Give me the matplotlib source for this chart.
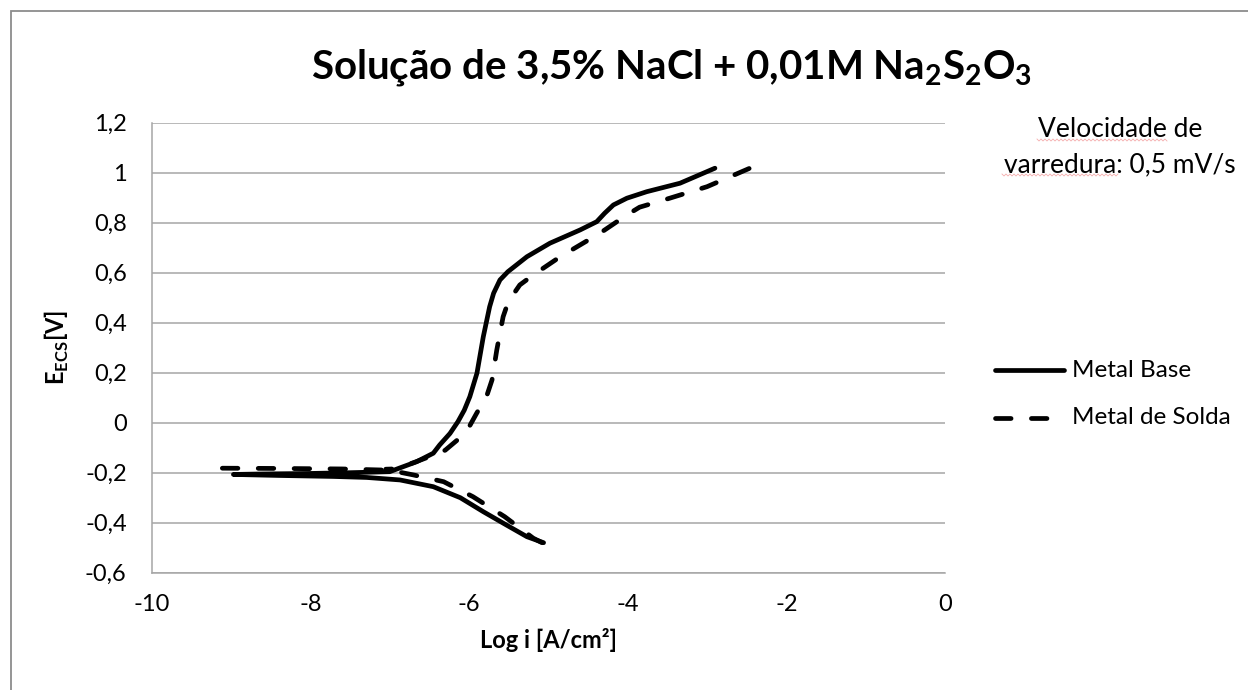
import matplotlib
matplotlib.use("Agg")
import matplotlib.pyplot as plt
from matplotlib.patches import Rectangle
from matplotlib.lines import Line2D

# Polarization curves: log of current density vs potential (E_ECS)
base_logi = [-5.06, -5.27, -5.53, -5.82, -6.11, -6.45, -6.87, -7.29, -7.71, -8.40, -8.97,
             -8.60, -8.00, -7.50, -7.00, -6.66, -6.45, -6.37, -6.24, -6.14, -6.06,
             -5.99, -5.90, -5.82, -5.74, -5.69, -5.61, -5.51, -5.27, -4.98, -4.60,
             -4.39, -4.29, -4.18, -4.01, -3.76, -3.34, -2.90]
base_E = [-0.480, -0.456, -0.409, -0.356, -0.300, -0.256, -0.229, -0.219, -0.215, -0.211, -0.207,
          -0.205, -0.203, -0.200, -0.196, -0.156, -0.122, -0.089, -0.043, 0.004, 0.050,
          0.104, 0.198, 0.344, 0.464, 0.518, 0.571, 0.604, 0.664, 0.718, 0.771,
          0.804, 0.838, 0.871, 0.898, 0.924, 0.958, 1.018]

# weld metal: cathodic branch (down to the corrosion potential) and anodic branch
solda_cat_logi = [-5.08, -5.19, -5.55, -5.95, -6.32, -6.70, -7.00, -7.60, -8.40, -9.12]
solda_cat_E = [-0.480, -0.462, -0.376, -0.296, -0.236, -0.209, -0.190, -0.185, -0.183, -0.182]

solda_an_logi = [-7.05, -6.95, -6.70, -6.45, -6.30, -6.15, -6.02, -5.90,
                 -5.78, -5.71, -5.65, -5.57, -5.505, -5.36, -5.19, -4.85, -4.35, -4.01,
                 -3.85, -3.47, -3.00, -2.46]
solda_an_E = [-0.186, -0.185, -0.160, -0.130, -0.110, -0.070, -0.029, 0.040,
              0.104, 0.171, 0.291, 0.424, 0.484, 0.551, 0.591, 0.664, 0.758, 0.831,
              0.862, 0.898, 0.944, 1.018]

x_ticks = [-10, -8, -6, -4, -2, 0]
y_ticks = [-0.6, -0.4, -0.2, 0.0, 0.2, 0.4, 0.6, 0.8, 1.0, 1.2]

title_text = r"Solução de 3,5% NaCl + 0,01M Na$_\mathregular{2}$S$_\mathregular{2}$O$_\mathregular{3}$"
series_labels = ["Metal Base", "Metal de Solda"]
note_lines = ["Velocidade de", "varredura: 0,5 mV/s"]

plt.rcParams["font.family"] = ["Lato", "DejaVu Sans"]
plt.rcParams["mathtext.fontset"] = "custom"
plt.rcParams["mathtext.rm"] = "Lato"
plt.rcParams["mathtext.bf"] = "Lato:bold"

W, H = 1248, 690
fig = plt.figure(figsize=(W / 100, H / 100), dpi=100)
fig.patch.set_facecolor("white")

def fx(px):
    return px / W

def fy(py):
    return 1 - py / H

# chart-area frame
fig.patches.append(Rectangle((fx(11), fy(1000)), fx(1400), fy(10.7) - fy(1000),
                             transform=fig.transFigure, fill=False,
                             edgecolor="#8c8c8c", linewidth=1.3))

ax = fig.add_axes([fx(151.7), fy(572.7), fx(945) - fx(151.7), fy(122.7) - fy(572.7)])
ax.set_xlim(-10, 0)
ax.set_ylim(-0.6, 1.2)
ax.set_xticks(x_ticks)
ax.set_yticks(y_ticks)
ax.set_xticklabels([str(t) for t in x_ticks])
ax.set_yticklabels([("%g" % t).replace(".", ",") for t in y_ticks])
ax.tick_params(length=0, labelsize=17, colors="#000000")
ax.tick_params(axis="y", pad=18)
ax.tick_params(axis="x", pad=15)
ax.grid(axis="y", color="#a6a6a6", linewidth=1.1)
ax.set_axisbelow(True)
for side in ["top", "right"]:
    ax.spines[side].set_visible(False)
for side in ["left", "bottom"]:
    ax.spines[side].set_color("#a6a6a6")
    ax.spines[side].set_linewidth(1.1)

lw = 3.4
dash = (0, (3.3, 4.3))
ax.plot(base_logi, base_E, color="black", linewidth=lw, solid_capstyle="round",
        solid_joinstyle="round")
ax.plot(solda_cat_logi, solda_cat_E, color="black", linewidth=lw, linestyle=dash,
        dash_capstyle="round")
ax.plot(solda_an_logi, solda_an_E, color="black", linewidth=lw, linestyle=(2.0, (3.3, 4.3)),
        dash_capstyle="round")

ax.set_xlabel("Log i [A/cm²]", fontsize=17, fontweight="bold", labelpad=10)
ax.set_ylabel(r"E$_\mathregular{ECS}$[V]", fontsize=17, fontweight="bold", labelpad=10)

fig.text(fx(672), fy(68), title_text, fontsize=29, fontweight="bold",
         ha="center", va="center")

fig.text(fx(1120), fy(137), note_lines[0], fontsize=19, ha="center", va="baseline")
fig.text(fx(1120), fy(172), note_lines[1], fontsize=19, ha="center", va="baseline")

# spell-check squiggles under two words of the note
def squiggle(x0, x1, y):
    xs, ys = [], []
    step = 2.0
    k = 0
    x = x0
    while x <= x1:
        xs.append(fx(x))
        ys.append(fy(y + (1.0 if k % 2 else -1.0)))
        x += step
        k += 1
    fig.lines.append(Line2D(xs, ys, transform=fig.transFigure, color="#f08a8a",
                            linewidth=0.6, alpha=0.7))

squiggle(1037, 1168, 140)
squiggle(1002, 1118, 175)

# legend drawn in figure pixels
for i, (lab, ls) in enumerate(zip(series_labels, ["-", dash])):
    yy = 370 + i * 48
    ln = Line2D([fx(995), fx(1064)], [fy(yy), fy(yy)], transform=fig.transFigure,
                color="black", linewidth=lw, linestyle=ls,
                solid_capstyle="round", dash_capstyle="round")
    fig.lines.append(ln)
    fig.text(fx(1072), fy(yy), lab, fontsize=17.5, ha="left", va="center")

fig.savefig("out.png", dpi=100)
